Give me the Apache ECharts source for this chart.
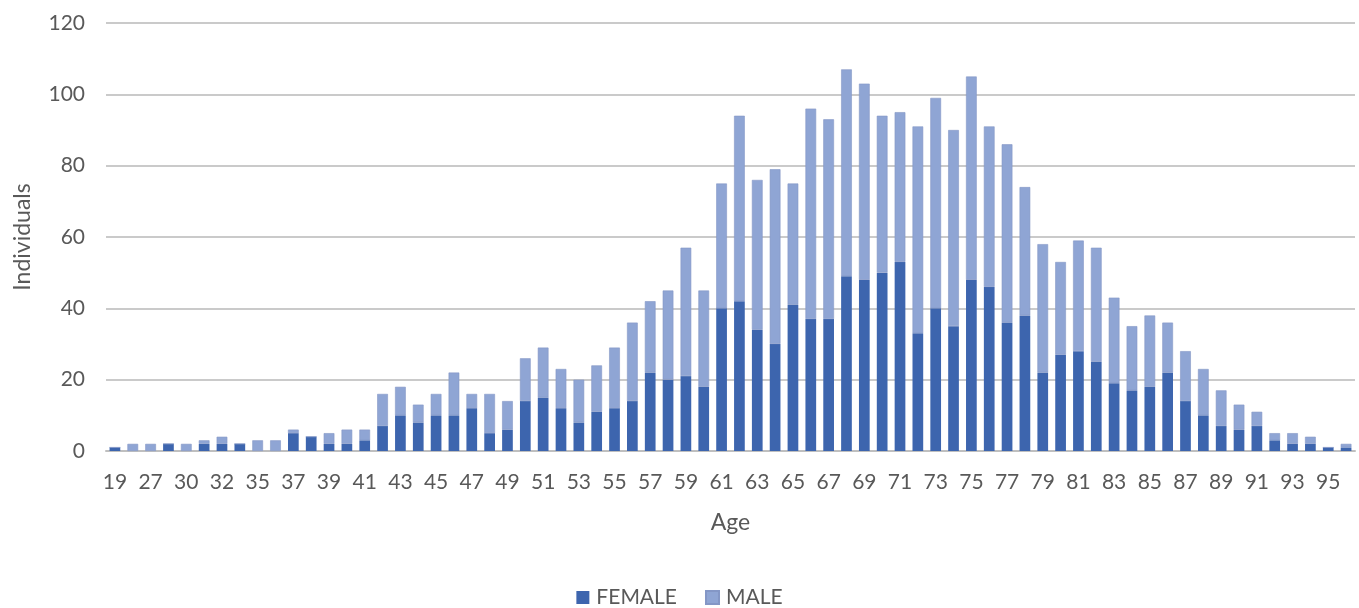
<!DOCTYPE html>
<html>
<head>
<meta charset="utf-8">
<script src="https://cdn.jsdelivr.net/npm/echarts@6/dist/echarts.min.js"></script>
<style>
html,body{margin:0;padding:0;background:#fff;}
#chart{width:1359px;height:608px;}
</style>
</head>
<body>
<div id="chart"></div>
<script>
const ages = ['19','24','27','28','30','31','32','34','35','36',
  '37','38','39','40','41','42','43','44','45','46',
  '47','48','49','50','51','52','53','54','55','56',
  '57','58','59','60','61','62','63','64','65','66',
  '67','68','69','70','71','72','73','74','75','76',
  '77','78','79','80','81','82','83','84','85','86',
  '87','88','89','90','91','92','93','94','95','96'];
const female = [1,0,0,2,0,2,2,2,0,0,
  5,4,2,2,3,7,10,8,10,10,
  12,5,6,14,15,12,8,11,12,14,
  22,20,21,18,40,42,34,30,41,37,
  37,49,48,50,53,33,40,35,48,46,
  36,38,22,27,28,25,19,17,18,22,
  14,10,7,6,7,3,2,2,1,1];
const male = [0,2,2,0,2,1,2,0,3,3,
  1,0,3,4,3,9,8,5,6,12,
  4,11,8,12,14,11,12,13,17,22,
  20,25,36,27,35,52,42,49,34,59,
  56,58,55,44,42,58,59,55,57,45,
  50,36,36,26,31,32,24,18,20,14,
  14,13,10,7,4,2,3,2,0,1];
const yTicks = [0,20,40,60,80,100,120];

const font = 'Lato, "Noto Sans", sans-serif';
const chart = echarts.init(document.getElementById('chart'));
chart.setOption({
  animation: false,
  textStyle: {fontFamily: font},
  grid: {left: 106, right: 4, top: 23, bottom: 157, containLabel: false, outerBoundsMode: 'none'},
  legend: {
    top: 582, left: 'center',
    itemWidth: 13, itemHeight: 13, itemGap: 28,
    icon: 'rect',
    textStyle: {fontSize: 21, color: '#595959', fontFamily: font, padding: [0, 0, 0, 2]},
    data: ['FEMALE', 'MALE']
  },
  xAxis: {
    type: 'category',
    data: ages,
    name: 'Age',
    nameLocation: 'middle',
    nameGap: 60,
    nameTextStyle: {fontSize: 23, color: '#595959'},
    axisLine: {lineStyle: {color: '#bfbfbf', width: 2}},
    axisTick: {show: false},
    axisLabel: {interval: 1, fontSize: 21, color: '#595959', margin: 21}
  },
  yAxis: {
    type: 'value',
    min: yTicks[0], max: yTicks[yTicks.length-1], interval: 20,
    name: 'Individuals',
    nameLocation: 'middle',
    nameGap: 72,
    nameTextStyle: {fontSize: 23, color: '#595959'},
    axisLine: {show: false},
    axisTick: {show: false},
    axisLabel: {fontSize: 21, color: '#595959', margin: 21},
    splitLine: {lineStyle: {color: '#cacaca', width: 2}}
  },
  series: [
    {name: 'FEMALE', type: 'bar', stack: 'a', data: female, barCategoryGap: '40%',
     itemStyle: {color: '#3d65ae'}},
    {name: 'MALE', type: 'bar', stack: 'a', data: male, barCategoryGap: '40%',
     itemStyle: {color: '#8fa5d4', borderColor: '#8497c6', borderWidth: 0.6}}
  ]
});
</script>
</body>
</html>
